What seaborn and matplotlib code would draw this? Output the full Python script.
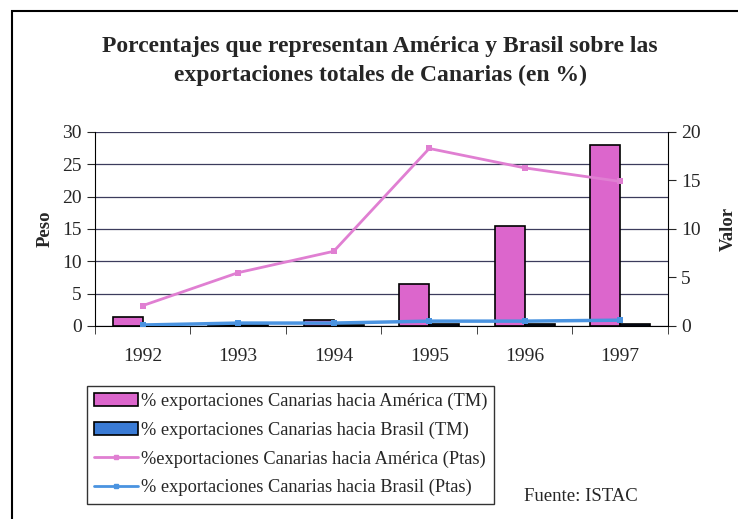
import numpy as np
import pandas as pd
import matplotlib
matplotlib.use("Agg")
import matplotlib.pyplot as plt
from matplotlib.patches import Rectangle
from matplotlib.lines import Line2D
import seaborn as sns

# Data
years = ["1992", "1993", "1994", "1995", "1996", "1997"]
america_tm = [1.4, 0.2, 0.9, 6.5, 15.4, 28.0]      # left axis (Peso)
brasil_tm = [0.1, 0.2, 0.2, 0.3, 0.3, 0.3]         # left axis (Peso)
america_ptas = [2.1, 5.5, 7.7, 18.3, 16.3, 14.9]   # right axis (Valor)
brasil_ptas = [0.1, 0.3, 0.3, 0.5, 0.5, 0.6]       # right axis (Valor)

lab_am_tm = "% exportaciones Canarias hacia América (TM)"
lab_br_tm = "% exportaciones Canarias hacia Brasil (TM)"
lab_am_pt = "%exportaciones Canarias hacia América (Ptas)"
lab_br_pt = "% exportaciones Canarias hacia Brasil (Ptas)"

pink = "#dc66cc"
blue_bar = "#3a7bd5"
pink_line = "#e07fd2"
blue_line = "#4a93e0"

sns.set_style("white")
plt.rcParams["font.family"] = ["Liberation Serif", "DejaVu Serif"]

bars = pd.DataFrame({
    "Año": years * 2,
    "Peso": america_tm + brasil_tm,
    "Serie": [lab_am_tm] * len(years) + [lab_br_tm] * len(years),
})

fig = plt.figure(figsize=(7.38, 5.19), dpi=100)
ax = fig.add_axes([0.1287, 0.3719, 0.7764, 0.3738])

sns.barplot(data=bars, x="Año", y="Peso", hue="Serie",
            palette=[pink, "#1a2a60"], saturation=1, width=0.63,
            edgecolor="black", linewidth=1.2, ax=ax, legend=False)

ax.set_ylim(0, 30)
ax.set_xlim(-0.5, len(years) - 0.5)
ax.set_yticks(range(0, 31, 5))
ax.yaxis.grid(True, color="#3c3c5c", linewidth=0.9)
ax.set_axisbelow(True)
ax.set_xlabel("")
ax.set_ylabel("Peso", fontsize=13.5, fontweight="bold", labelpad=6)
ax.tick_params(axis="y", labelsize=14, length=6, direction="out", left=True)
ax.tick_params(axis="x", which="major", length=0, labelsize=14, pad=16)
ax.set_xticks(np.arange(-0.5, len(years), 1.0), minor=True)
ax.tick_params(axis="x", which="minor", length=6, direction="out", bottom=True)
for s in ["top", "right"]:
    ax.spines[s].set_visible(False)
ax.spines["left"].set_color("black")
ax.spines["bottom"].set_color("black")

ax2 = ax.twinx()
xpos = np.arange(len(years))
sns.lineplot(x=xpos, y=america_ptas, color=pink_line, linewidth=2,
             marker="s", markersize=4, markeredgewidth=0, ax=ax2)
sns.lineplot(x=xpos, y=brasil_ptas, color=blue_line, linewidth=2.5,
             marker="s", markersize=4, markeredgewidth=0, ax=ax2)
ax2.set_ylim(0, 20)
ax2.set_yticks(range(0, 21, 5))
ax2.set_ylabel("Valor", fontsize=13.5, fontweight="bold", labelpad=14)
ax2.tick_params(axis="y", labelsize=14, length=6, direction="out", right=True)
for s in ["top", "left", "bottom"]:
    ax2.spines[s].set_visible(False)
ax2.spines["right"].set_color("black")
ax2.grid(False)

fig.suptitle("Porcentajes que representan América y Brasil sobre las\n"
             "exportaciones totales de Canarias (en %)",
             x=0.515, y=0.93, fontsize=17, fontweight="bold", linespacing=1.45)

handles = [
    Rectangle((0, 0), 1, 1, facecolor=pink, edgecolor="black", linewidth=1.2),
    Rectangle((0, 0), 1, 1, facecolor=blue_bar, edgecolor="black", linewidth=1.2),
    Line2D([], [], color=pink_line, linewidth=2, marker="s", markersize=3),
    Line2D([], [], color=blue_line, linewidth=2, marker="s", markersize=3),
]
leg = fig.legend(handles, [lab_am_tm, lab_br_tm, lab_am_pt, lab_br_pt],
                 loc="lower left", bbox_to_anchor=(0.105, 0.012),
                 fontsize=13.2, frameon=True, fancybox=False,
                 edgecolor="black", handlelength=2.4, handletextpad=0.15,
                 labelspacing=0.62, borderpad=0.4)
leg.get_frame().set_linewidth(1.0)

fig.text(0.71, 0.035, "Fuente: ISTAC", fontsize=13.5)

# outer frame of the chart
fig.add_artist(Rectangle((12 / 738, -0.05), 1.0, 1 - 11 / 519 + 0.05,
                         transform=fig.transFigure, fill=False,
                         edgecolor="black", linewidth=1.5))

fig.savefig("out.png", dpi=100)
